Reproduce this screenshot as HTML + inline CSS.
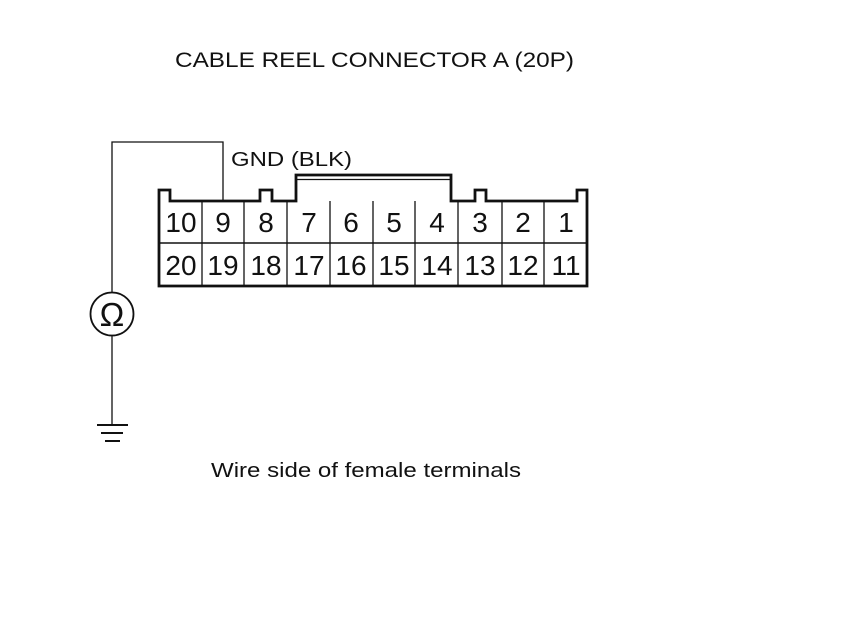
<!DOCTYPE html>
<html><head><meta charset="utf-8"><style>
html,body{margin:0;padding:0;background:#fff;width:860px;height:630px;overflow:hidden}
svg{display:block}
text{font-family:"Liberation Sans",Arial,sans-serif;fill:#111}
</style></head><body>
<svg width="860" height="630" viewBox="0 0 860 630" xmlns="http://www.w3.org/2000/svg">
<text x="175" y="67" font-size="21" textLength="399" lengthAdjust="spacingAndGlyphs">CABLE REEL CONNECTOR A (20P)</text>
<text x="231" y="166" font-size="20" textLength="121" lengthAdjust="spacingAndGlyphs">GND (BLK)</text>
<text x="211" y="477" font-size="20" textLength="310" lengthAdjust="spacingAndGlyphs">Wire side of female terminals</text>

<g fill="none" stroke="#111">
<polyline points="112,293 112,142 223,142 223,201" stroke-width="1.3"/>
<line x1="112" y1="336" x2="112" y2="425" stroke-width="1.3"/>
<circle cx="112" cy="314" r="21.5" stroke-width="1.8"/>
<line x1="97" y1="425" x2="128" y2="425" stroke-width="2"/>
<line x1="101" y1="433" x2="123" y2="433" stroke-width="2"/>
<line x1="105" y1="441" x2="120" y2="441" stroke-width="2"/>
<path d="M159,286 L159,190 L170,190 L170,201 L260,201 L260,190 L272,190 L272,201 L296,201 L296,175 L451,175 L451,201 L475,201 L475,190 L486,190 L486,201 L577,201 L577,190 L587,190 L587,286 Z" stroke-width="2.8"/>
<line x1="297" y1="179.5" x2="450" y2="179.5" stroke-width="1.2"/>
<line x1="159" y1="243" x2="587" y2="243" stroke-width="1.5"/>
<g stroke-width="1.3">
<line x1="202" y1="201" x2="202" y2="286"/>
<line x1="244" y1="201" x2="244" y2="286"/>
<line x1="287" y1="201" x2="287" y2="286"/>
<line x1="330" y1="201" x2="330" y2="286"/>
<line x1="373" y1="201" x2="373" y2="286"/>
<line x1="415" y1="201" x2="415" y2="286"/>
<line x1="458" y1="201" x2="458" y2="286"/>
<line x1="502" y1="201" x2="502" y2="286"/>
<line x1="544" y1="201" x2="544" y2="286"/>
</g>
</g>
<text x="112" y="326" font-size="33" text-anchor="middle">Ω</text>
<g font-size="28" text-anchor="middle">
<text x="181" y="232">10</text><text x="223" y="232">9</text><text x="266" y="232">8</text><text x="309" y="232">7</text><text x="351" y="232">6</text><text x="394" y="232">5</text><text x="437" y="232">4</text><text x="480" y="232">3</text><text x="523" y="232">2</text><text x="566" y="232">1</text>
<text x="181" y="275">20</text><text x="223" y="275">19</text><text x="266" y="275">18</text><text x="309" y="275">17</text><text x="351" y="275">16</text><text x="394" y="275">15</text><text x="437" y="275">14</text><text x="480" y="275">13</text><text x="523" y="275">12</text><text x="566" y="275">11</text>
</g>
</svg>
</body></html>
